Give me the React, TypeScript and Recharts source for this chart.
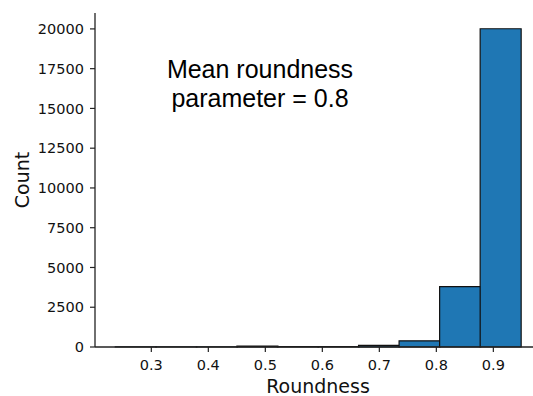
import { BarChart, Bar, XAxis, YAxis } from 'recharts'

// histogram bins (bin centres) and counts
const binStart = 0.2368
const binWidth = 0.07112
const counts = [15, 10, 10, 50, 20, 25, 100, 390, 3790, 20010]
const xTicks = [0.3, 0.4, 0.5, 0.6, 0.7, 0.8, 0.9]
const yTicks = [0, 2500, 5000, 7500, 10000, 12500, 15000, 17500, 20000]

const data = counts.map((count, i) => ({
  x: binStart + binWidth * (i + 0.5),
  count,
}))

const axisColor = '#222222'
const tickStyle = { fill: '#111111', fontSize: 14.5, fontFamily: 'DejaVu Sans' }

export default function App() {
  return (
    <div style={{ position: 'absolute', left: 0, top: 0, width: 533, height: 396, overflow: 'hidden', background: '#fff' }}>
      <BarChart
        width={541}
        height={396}
        data={data}
        barCategoryGap={0}
        barGap={0}
        margin={{ top: 13, right: 0, left: 20, bottom: 0 }}
        style={{ fontFamily: 'DejaVu Sans' }}
      >
        <XAxis
          dataKey="x"
          type="number"
          domain={[0.2012, 0.9836]}
          ticks={xTicks}
          tickFormatter={(v: number) => v.toFixed(1)}
          interval={0}
          height={49}
          tick={tickStyle}
          tickSize={5}
          tickMargin={8}
          axisLine={{ stroke: axisColor, strokeWidth: 1.3 }}
          tickLine={{ stroke: axisColor, strokeWidth: 1.2 }}
          label={{ value: 'Roundness', position: 'insideBottom', offset: 3, style: { fill: '#111', fontSize: 19, fontFamily: 'DejaVu Sans' } }}
        />
        <XAxis
          xAxisId="top"
          orientation="top"
          type="number"
          domain={[0.2012, 0.9836]}
          height={0}
          tick={false}
          tickLine={false}
          axisLine={{ stroke: axisColor, strokeWidth: 1.3 }}
        />
        <YAxis
          type="number"
          domain={[0, 21000]}
          ticks={yTicks}
          interval={0}
          width={75}
          tick={tickStyle}
          tickSize={5}
          tickMargin={6}
          axisLine={{ stroke: axisColor, strokeWidth: 1.3 }}
          tickLine={{ stroke: axisColor, strokeWidth: 1.2 }}
          label={{ value: 'Count', angle: -90, position: 'insideLeft', offset: 2, style: { textAnchor: 'middle', fill: '#111', fontSize: 19, fontFamily: 'DejaVu Sans' } }}
        />
        <Bar dataKey="count" fill="#1f77b4" stroke="#111111" strokeWidth={1.2} isAnimationActive={false} />
      </BarChart>
      <div
        style={{
          position: 'absolute',
          left: 150,
          top: 55,
          width: 220,
          textAlign: 'center',
          fontFamily: '"Liberation Sans", Arial, sans-serif',
          fontSize: 25,
          lineHeight: '28.5px',
          color: '#000',
        }}
      >
        Mean roundness
        <br />
        parameter = 0.8
      </div>
    </div>
  )
}
